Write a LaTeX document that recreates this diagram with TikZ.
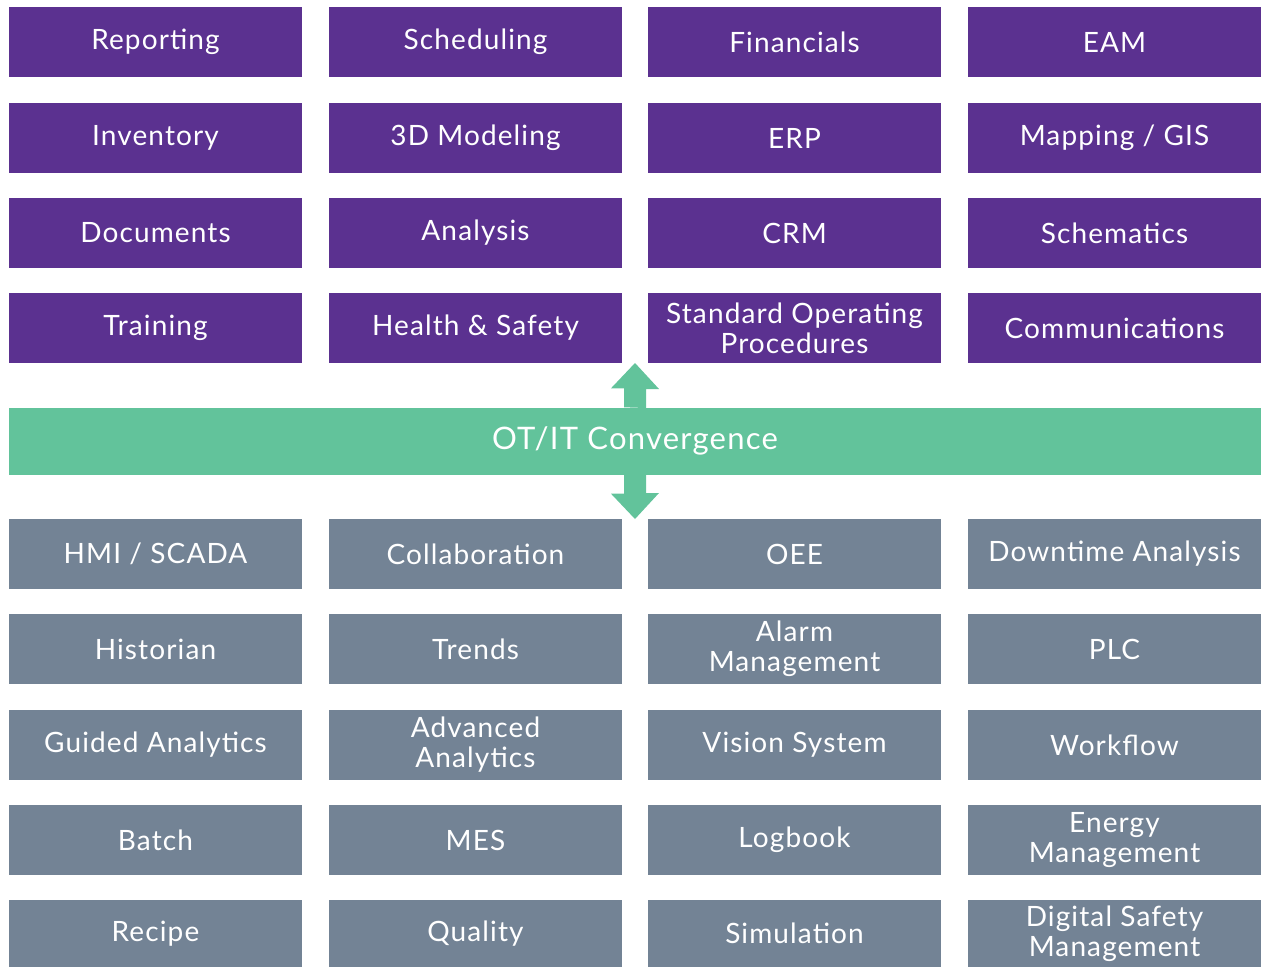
\documentclass[tikz,border=0pt]{standalone}
\usepackage{fontspec}
\setmainfont{Lato}[LetterSpace=4]
\definecolor{itpurple}{HTML}{5B3190}
\definecolor{otgray}{HTML}{738395}
\definecolor{convgreen}{HTML}{62C39B}
\tikzset{
    itbox/.style={fill=itpurple,text=white,minimum width=293pt,minimum height=70pt,
        inner sep=0pt,align=center,font=\fontsize{28}{30}\selectfont},
    otbox/.style={itbox,fill=otgray},
}
\begin{document}
\begin{tikzpicture}[x=1pt,y=-1pt]
    \useasboundingbox (0,0) rectangle (1261,967);
    % IT side
    \node[itbox] (rep) at (155.5,42) {Reporting};
    \node[itbox] (sch) at (475.5,42) {Scheduling};
    \node[itbox] (fin) at (794.5,42) {Financials};
    \node[itbox] (eam) at (1114.5,42) {EAM};
    \node[itbox] (inv) at (155.5,138) {Inventory};
    \node[itbox] (mod) at (475.5,138) {3D Modeling};
    \node[itbox] (erp) at (794.5,138) {ERP};
    \node[itbox] (gis) at (1114.5,138) {Mapping / GIS};
    \node[itbox] (doc) at (155.5,233) {Documents};
    \node[itbox] (ana) at (475.5,233) {Analysis};
    \node[itbox] (crm) at (794.5,233) {CRM};
    \node[itbox] (sche) at (1114.5,233) {Schematics};
    \node[itbox] (tra) at (155.5,328) {Training};
    \node[itbox] (hs) at (475.5,328) {Health \& Safety};
    \node[itbox] (sop) at (794.5,328) {Standard Operating\\Procedures};
    \node[itbox] (com) at (1114.5,328) {Communications};

    % convergence band
    \node[fill=convgreen,text=white,minimum width=1252pt,minimum height=67pt,inner sep=0pt,
        font=\fontsize{31}{34}\selectfont] (conv) at (635,441) {OT/IT Convergence};
    \coordinate (up) at (635,363);
    \coordinate (down) at (635,519);
    \fill[convgreen] (conv.north -| up) ++(-11,0) -- ++(0,-19) -- ++(-13,0) -- (up)
        -- ++(24,26) -- ++(-13,0) -- ++(0,19) -- cycle;
    \fill[convgreen] (conv.south -| down) ++(-11,0) -- ++(0,19) -- ++(-13,0) -- (down)
        -- ++(24,-26) -- ++(-13,0) -- ++(0,-19) -- cycle;

    % OT side
    \node[otbox] (hmi) at (155.5,554) {HMI / SCADA};
    \node[otbox] (col) at (475.5,554) {Collaboration};
    \node[otbox] (oee) at (794.5,554) {OEE};
    \node[otbox] (dta) at (1114.5,554) {Downtime Analysis};
    \node[otbox] (his) at (155.5,649) {Historian};
    \node[otbox] (trd) at (475.5,649) {Trends};
    \node[otbox] (alm) at (794.5,649) {Alarm\\Management};
    \node[otbox] (plc) at (1114.5,649) {PLC};
    \node[otbox] (gda) at (155.5,745) {Guided Analytics};
    \node[otbox] (ada) at (475.5,745) {Advanced\\Analytics};
    \node[otbox] (vis) at (794.5,745) {Vision System};
    \node[otbox] (wfl) at (1114.5,745) {Workflow};
    \node[otbox] (bat) at (155.5,840) {Batch};
    \node[otbox] (mes) at (475.5,840) {MES};
    \node[otbox] (log) at (794.5,840) {Logbook};
    \node[otbox] (enm) at (1114.5,840) {Energy\\Management};
    \node[otbox,minimum height=67pt] (rcp) at (155.5,933.5) {Recipe};
    \node[otbox,minimum height=67pt] (qua) at (475.5,933.5) {Quality};
    \node[otbox,minimum height=67pt] (sim) at (794.5,933.5) {Simulation};
    \node[otbox,minimum height=67pt] (dsm) at (1114.5,933.5) {Digital Safety\\Management};
\end{tikzpicture}
\end{document}
